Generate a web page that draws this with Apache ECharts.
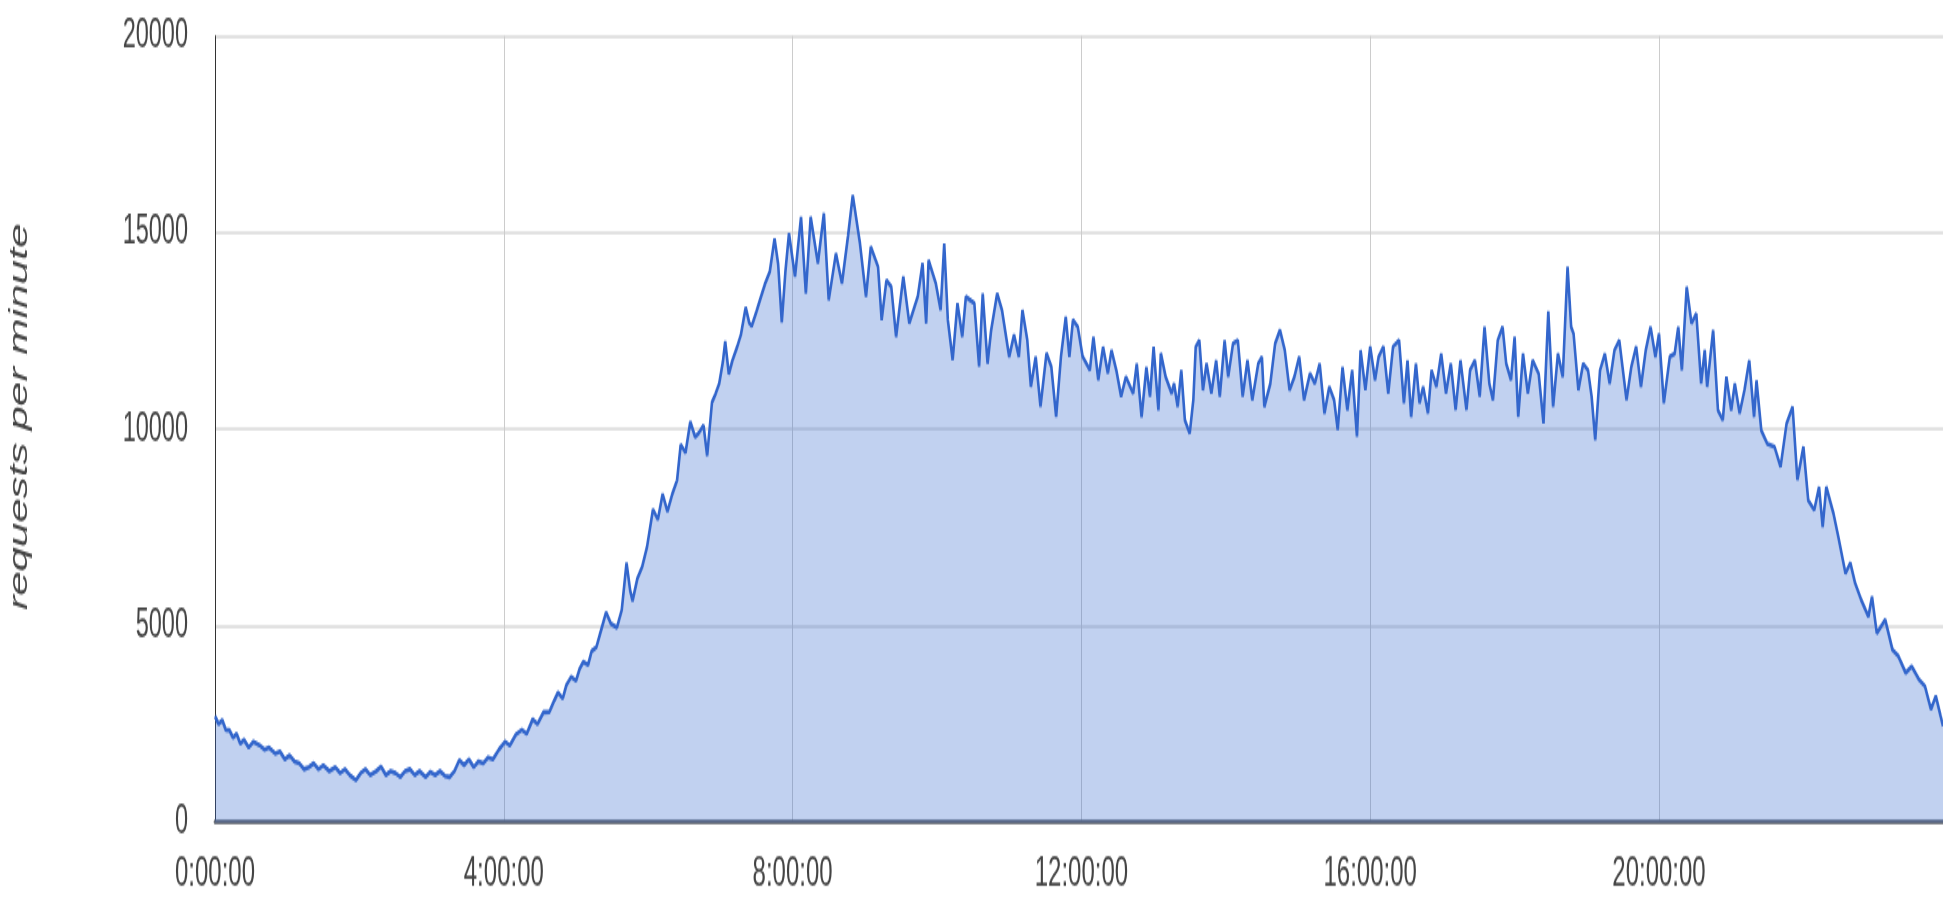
<!DOCTYPE html>
<html>
<head>
<meta charset="utf-8">
<script src="https://cdn.jsdelivr.net/npm/echarts@6/dist/echarts.min.js"></script>
<style>
html,body{margin:0;padding:0;background:#fff;overflow:hidden;width:1943px;height:898px;}
#c{position:absolute;left:0;top:0;width:1943px;height:513px;transform:scaleY(1.7505);transform-origin:0 0;}
</style>
</head>
<body>
<div id="c"></div>
<script>
// minutes since 0:00:00
const minutes = [
0,3,6,9,12,15,18,21,24,28,
32,37,41,45,50,54,58,62,66,70,
74,78,82,86,90,95,100,104,108,112,
117,121,125,129,134,138,142,146,150,154,
158,162,166,170,175,179,183,187,191,195,
199,203,207,211,215,219,223,227,231,236,
241,245,250,255,259,264,268,273,278,282,
285,289,292,296,300,303,306,310,313,317,
321,325,329,334,338,342,345,347,351,355,
359,364,368,372,376,380,384,387,391,395,
399,402,406,409,413,416,419,422,424,427,
430,434,437,441,444,446,450,453,457,461,
465,468,471,474,477,482,487,491,495,501,
506,510,516,521,526,530,536,541,545,551,
554,558,562,566,572,577,584,588,591,593,
599,603,606,609,613,617,621,624,631,635,
638,642,645,650,654,660,664,668,671,675,
678,682,686,691,695,699,703,707,710,713,
717,721,727,730,734,738,742,745,749,753,
757,763,766,770,774,777,780,784,786,790,
795,797,800,803,806,810,813,815,818,821,
824,828,832,835,839,842,846,850,854,858,
862,867,870,872,877,881,885,889,893,897,
901,905,910,914,918,922,926,930,933,937,
941,945,949,952,956,960,964,967,971,975,
979,984,988,991,994,998,1001,1004,1008,1011,
1015,1019,1023,1027,1031,1035,1040,1043,1047,1051,
1055,1059,1062,1066,1070,1073,1077,1080,1083,1087,
1091,1095,1100,1104,1108,1112,1116,1120,1124,1127,
1129,1133,1137,1141,1144,1147,1151,1155,1159,1163,
1167,1173,1177,1181,1185,1189,1193,1197,1200,1204,
1209,1213,1216,1219,1223,1227,1231,1235,1238,1240,
1245,1249,1253,1256,1260,1263,1267,1271,1275,1279,
1281,1285,1290,1296,1301,1306,1311,1315,1320,1324,
1329,1333,1336,1339,1345,1349,1355,1359,1363,1368,
1374,1377,1381,1388,1394,1399,1405,1410,1416,1421,
1426,1430,1434,1436
];

// requests per minute
const requests = [
2700,2500,2600,2350,2340,2150,2250,2000,2100,1900,
2050,1960,1850,1900,1750,1800,1600,1700,1550,1500,
1350,1400,1500,1350,1450,1300,1400,1250,1350,1200,
1070,1250,1350,1200,1300,1420,1200,1300,1250,1150,
1300,1350,1200,1300,1150,1280,1200,1300,1180,1150,
1300,1580,1450,1600,1400,1550,1500,1650,1600,1850,
2050,1950,2230,2350,2250,2620,2500,2800,2810,3100,
3300,3150,3490,3700,3600,3900,4080,4000,4350,4460,
4900,5340,5050,4950,5400,6600,5900,5630,6200,6500,
7000,7960,7700,8350,7900,8350,8700,9610,9400,10190,
9800,9900,10100,9320,10680,10900,11160,11700,12230,11400,
11750,12100,12400,13100,12700,12620,13000,13300,13690,14000,
14850,14200,12720,14000,14980,13880,15400,13450,15400,14220,
15490,13280,14470,13710,14900,15950,14720,13370,14640,14130,
12780,13790,13620,12350,13880,12690,13370,14220,12690,14300,
13710,13030,14720,12780,11760,13200,12350,13370,13200,11590,
13450,11670,12520,13450,13030,11840,12400,11840,13030,12270,
11080,11840,10570,11930,11590,10320,11840,12860,11840,12780,
12600,11850,11500,12350,11250,12090,11420,12010,11500,10830,
11330,10910,11670,10310,11580,10830,12090,10480,11930,11330,
10910,11160,10570,11500,10230,9890,10740,12090,12260,10990,
11670,10910,11750,10830,12260,11330,12180,12260,10830,11750,
10740,11670,11840,10570,11160,12180,12520,12010,10990,11330,
11840,10740,11420,11160,11670,10400,11080,10740,9980,11580,
10480,11500,9810,12010,11000,12100,11250,11840,12100,10910,
12100,12260,10660,11750,10310,11670,10660,11080,10400,11500,
11080,11920,10910,11670,10490,11750,10490,11500,11750,10830,
12600,11160,10740,12260,12600,11670,11250,12350,10310,11920,
10910,11750,11410,10150,13000,10570,11920,11330,14130,12600,
12430,10990,11670,11500,10830,9720,11500,11920,11160,12010,
12260,10740,11590,12100,11080,12010,12600,11840,12430,10660,
11840,11920,12600,11500,13620,12690,12940,11160,12010,11080,
12520,10480,10230,11330,10480,11160,10400,10990,11750,10310,
11240,9970,9630,9550,9040,10140,10570,8710,9550,8190,
7940,8530,7510,8530,7850,7260,6330,6600,6080,5660,
5230,5740,4810,5150,4390,4220,3800,3970,3630,3460,
2870,3210,2700,2450
];

const xTickLabels = ['0:00:00','4:00:00','8:00:00','12:00:00','16:00:00','20:00:00'];
const yTickLabels = ['0','5000','10000','15000','20000'];
const yAxisTitle = 'requests per minute';

const seriesData = minutes.map((m, i) => [m, requests[i]]);

const sans = "'Liberation Sans', Arial, sans-serif";

const chart = echarts.init(document.getElementById('c'), null, {renderer: 'canvas'});
chart.setOption({
  animation: false,
  backgroundColor: '#ffffff',
  grid: {left: 215, right: 0, top: 20.6, bottom: 43.3, containLabel: false},
  xAxis: {
    type: 'value',
    min: 0,
    max: 1436,
    interval: 240,
    axisLine: {show: true, onZero: true, lineStyle: {color: '#5f636b', width: 2.6}},
    axisTick: {show: false},
    axisLabel: {
      showMaxLabel: false,
      margin: 18,
      color: '#444444',
      fontFamily: sans,
      fontSize: 24,
      formatter: function (v) {
        const k = Math.round(v / 240);
        return (v % 240 === 0 && xTickLabels[k] !== undefined) ? xTickLabels[k] : '';
      }
    },
    splitLine: {show: true, showMaxLine: false, lineStyle: {color: '#cccccc', width: 1}}
  },
  yAxis: {
    type: 'value',
    min: 0,
    max: 20000,
    interval: 5000,
    name: yAxisTitle,
    nameLocation: 'middle',
    nameGap: 182,
    nameTextStyle: {
      fontStyle: 'italic',
      fontFamily: sans,
      fontSize: 25,
      color: '#444444',
      padding: [0, 0, 0, 14]
    },
    axisLine: {show: true, lineStyle: {color: '#333333', width: 1}},
    axisTick: {show: false},
    axisLabel: {
      margin: 27,
      color: '#444444',
      fontFamily: sans,
      fontSize: 23.5,
      formatter: function (v) {
        const k = Math.round(v / 5000);
        return yTickLabels[k] !== undefined ? yTickLabels[k] : '';
      }
    },
    splitLine: {show: true, lineStyle: {color: '#e2e2e2', width: 2}}
  },
  series: [{
    type: 'line',
    data: seriesData,
    showSymbol: false,
    symbol: 'none',
    lineStyle: {color: '#3366cc', width: 2.6},
    areaStyle: {color: '#3366cc', opacity: 0.3},
    itemStyle: {color: '#3366cc'}
  }]
});
</script>
</body>
</html>
